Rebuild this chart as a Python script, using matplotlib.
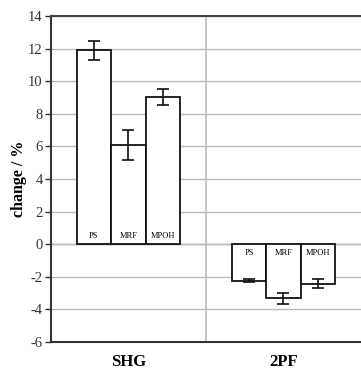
import matplotlib.pyplot as plt
import numpy as np

groups = ['SHG', '2PF']
samples = ['PS', 'MRF', 'MPOH']
shg_vals = [11.9, 6.1, 9.05]
shg_err = [0.58, 0.93, 0.5]
tpf_vals = [-2.25, -3.32, -2.43]
tpf_err = [0.1, 0.32, 0.28]

plt.rcParams['font.family'] = ['Liberation Serif', 'DejaVu Serif']
plt.rcParams['axes.unicode_minus'] = False

fig = plt.figure(figsize=(3.61, 3.74), dpi=100)
ax = fig.add_axes([0.141, 0.0856, 0.859, 0.8716])

w = 0.223
offs = np.array([-1, 0, 1]) * w
centers = [0.5, 1.5]

for c, vals, errs in zip(centers, [shg_vals, tpf_vals], [shg_err, tpf_err]):
    xs = c + offs
    ax.bar(xs, vals, width=w, color='white', edgecolor='#111111', linewidth=1.3, zorder=3)
    ax.errorbar(xs, vals, yerr=errs, fmt='none', ecolor='#111111',
                elinewidth=1.2, capsize=4, capthick=1.2, zorder=4)
    for x, v, s in zip(xs, vals, samples):
        if v > 0:
            ax.text(x, 0.25, s, ha='center', va='bottom', fontsize=6, zorder=5)
        else:
            ax.text(x, -0.3, s, ha='center', va='top', fontsize=6, zorder=5)

ax.set_xlim(0, 2)
ax.set_ylim(-6, 14)
ax.set_yticks(np.arange(-6, 15, 2))
ax.set_xticks(centers)
ax.set_xticklabels(groups, fontsize=12, fontweight='bold')
ax.tick_params(axis='x', length=0, pad=9)
ax.tick_params(axis='y', labelsize=10.5, colors='#333333', length=4, width=1, pad=2)

ax.yaxis.grid(True, color='#bbbbbb', linewidth=1, zorder=0)
ax.axvline(1, color='#bbbbbb', linewidth=1.2, zorder=0)
ax.axhline(0, color='#999999', linewidth=1, zorder=1)

ax.spines['right'].set_visible(False)
for side in ['left', 'bottom', 'top']:
    ax.spines[side].set_linewidth(1.5)
ax.spines['left'].set_color('#333333')
ax.spines['bottom'].set_color('#333333')
ax.spines['top'].set_color('#444444')

ax.set_ylabel('change / %', fontsize=11.5, fontweight='bold', labelpad=1)

fig.savefig('out.png', dpi=100)
